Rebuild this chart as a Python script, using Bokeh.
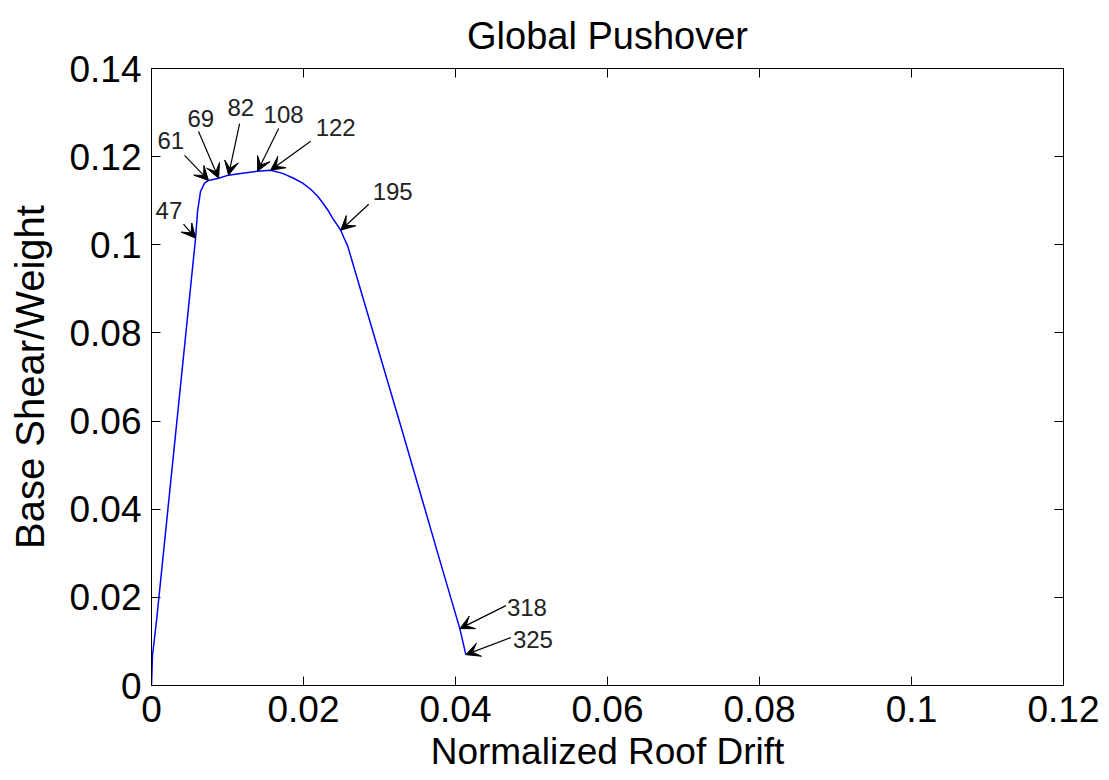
from bokeh.plotting import figure
from bokeh.models import Range1d, LinearAxis, FixedTicker, Arrow, VeeHead, ColumnDataSource
from bokeh.core.properties import value
from bokeh.embed import file_html
from bokeh.resources import INLINE

# ---- data ----
drift = [0.0, 0.00013, 0.00066, 0.0058, 0.00606, 0.00645, 0.00698, 0.0075, 0.00883,
         0.01014, 0.0117, 0.01396, 0.01567, 0.01726, 0.0187, 0.01989, 0.02094, 0.02187,
         0.02266, 0.02331, 0.02384, 0.02437, 0.0249, 0.02529, 0.02582, 0.02753, 0.03016,
         0.0328, 0.03543, 0.03807, 0.04057, 0.04136]
shear = [0.0, 0.0068, 0.0147, 0.1015, 0.1076, 0.1121, 0.1140, 0.1146, 0.1151,
         0.1158, 0.1162, 0.1167, 0.1169, 0.1162, 0.1151, 0.1140, 0.1126, 0.1110,
         0.1092, 0.1076, 0.1060, 0.1047, 0.1033, 0.1017, 0.0997, 0.0897, 0.0743,
         0.0589, 0.0433, 0.0276, 0.0129, 0.0070]

step_labels = ["47", "61", "69", "82", "108", "122", "195", "318", "325"]
tip_x = [0.0058, 0.0075, 0.00883, 0.01014, 0.01396, 0.01567, 0.0249, 0.04057, 0.04136]
tip_y = [0.1015, 0.1146, 0.1151, 0.1158, 0.1167, 0.1169, 0.1033, 0.0129, 0.0070]
tail_x = [0.00421, 0.00435, 0.00619, 0.01159, 0.01673, 0.02094, 0.02858, 0.04663, 0.04729]
tail_y = [0.1047, 0.1203, 0.1257, 0.1275, 0.1264, 0.1235, 0.1092, 0.01812, 0.01087]
label_x = [0.00053, 0.00079, 0.00474, 0.0100, 0.01475, 0.0216, 0.0291, 0.04676, 0.04755]
label_y = [0.1060, 0.1219, 0.1269, 0.1294, 0.1278, 0.1248, 0.1103, 0.01586, 0.00861]

x_ticks = [0, 0.02, 0.04, 0.06, 0.08, 0.10, 0.12]
x_tick_labels = ["0", "0.02", "0.04", "0.06", "0.08", "0.1", "0.12"]
y_ticks = [0, 0.02, 0.04, 0.06, 0.08, 0.10, 0.12, 0.14]
y_tick_labels = ["0", "0.02", "0.04", "0.06", "0.08", "0.1", "0.12", "0.14"]
title_text = "Global Pushover"

FONT = "Liberation Sans"

p = figure(width=1109, height=780, output_backend="svg", toolbar_location=None,
           x_range=Range1d(0, 0.12), y_range=Range1d(0, 0.14),
           title=title_text, x_axis_label="Normalized Roof Drift",
           y_axis_label="Base Shear/Weight",
           min_border_left=151, min_border_right=46, min_border_top=67, min_border_bottom=95)
p.xgrid.visible = False
p.ygrid.visible = False
p.outline_line_color = "black"
p.outline_line_width = 1
p.background_fill_color = "white"
p.border_fill_color = "white"

p.title.align = "center"
p.title.text_font = FONT
p.title.text_font_size = "38px"
p.title.text_font_style = "normal"
p.title.text_color = "black"
p.title.text_line_height = 0.6
p.title.standoff = 24

for ax, ticks, labels in ((p.xaxis[0], x_ticks, x_tick_labels), (p.yaxis[0], y_ticks, y_tick_labels)):
    ax.ticker = FixedTicker(ticks=ticks)
    ax.major_label_overrides = {t: l for t, l in zip(ticks, labels)}
    ax.major_tick_in = 9
    ax.major_tick_out = 0
    ax.minor_tick_in = 0
    ax.minor_tick_out = 0
    ax.axis_line_color = "black"
    ax.major_tick_line_color = "black"
    ax.major_label_text_font = FONT
    ax.major_label_text_font_size = "37px"
    ax.major_label_text_color = "black"
    ax.axis_label_text_font = FONT
    ax.axis_label_text_font_size = "37px"
    ax.axis_label_text_font_style = "normal"
    ax.axis_label_text_color = "black"
    ax.major_label_standoff = 10
    ax.axis_label_standoff = 6

p.yaxis[0].axis_label_text_font_size = "40px"
p.yaxis[0].axis_label_standoff = 14

for loc, ticks in (("above", x_ticks), ("right", y_ticks)):
    a = LinearAxis(ticker=FixedTicker(ticks=ticks), major_tick_in=9, major_tick_out=0,
                   minor_tick_in=0, minor_tick_out=0, major_label_text_font_size="0px",
                   major_label_text_alpha=0, axis_line_color="black")
    p.add_layout(a, loc)

p.line(drift, shear, line_color="#0000FF", line_width=1.5)

for i in range(len(step_labels)):
    p.add_layout(Arrow(x_start=tail_x[i], y_start=tail_y[i], x_end=tip_x[i], y_end=tip_y[i],
                       line_color="black", line_width=1.2,
                       end=VeeHead(size=14, fill_color="black", line_color="black", line_width=1)))

src = ColumnDataSource(dict(x=label_x, y=label_y, t=step_labels))
p.text(x="x", y="y", text="t", source=src, text_font=value(FONT), text_font_size="24px",
       text_color="#222222", text_align="left", text_baseline="alphabetic", y_offset=-8)

open("out.html", "w").write(file_html(p, INLINE))
